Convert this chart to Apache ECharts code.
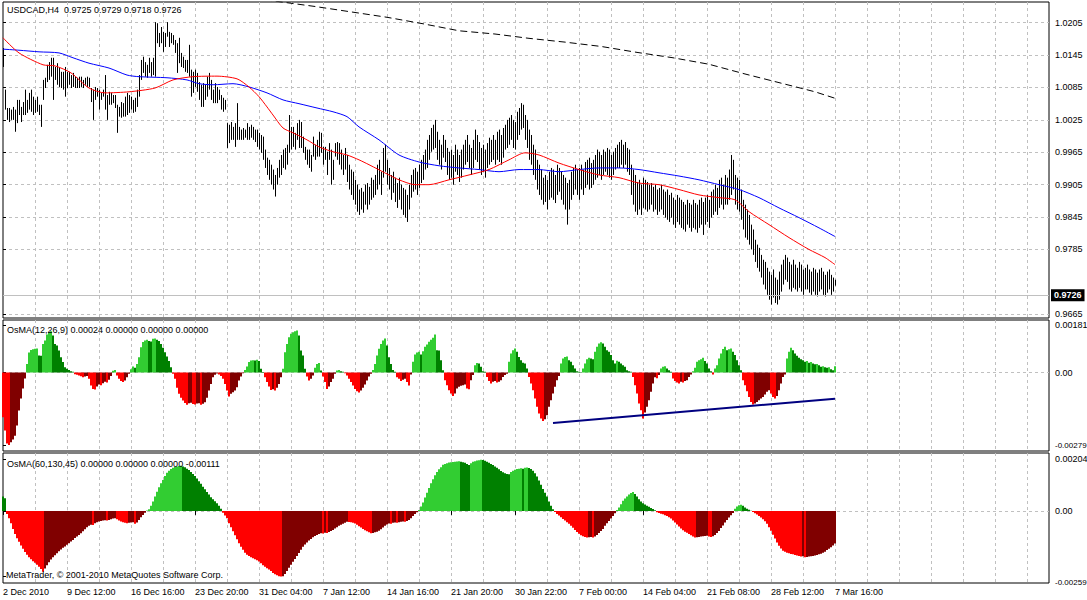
<!DOCTYPE html>
<html><head><meta charset="utf-8">
<script src="https://cdn.jsdelivr.net/npm/echarts@6/dist/echarts.min.js"></script>
<style>html,body{margin:0;padding:0;background:#fff}#c{width:1087px;height:600px}</style>
</head><body><div id="c"></div>
<script>
const xLabels = ['2 Dec 2010','9 Dec 12:00','16 Dec 16:00','23 Dec 20:00','31 Dec 04:00','7 Jan 12:00','14 Jan 16:00','21 Jan 20:00','30 Jan 22:00','7 Feb 00:00','14 Feb 04:00','21 Feb 08:00','28 Feb 12:00','7 Mar 16:00'];
const xLabelIdx = [0,32,64,96,128,160,192,224,256,288,320,352,384,416];
const lastOHLC = [0.9725,0.9729,0.9718,0.9726];
const osma1Header = [0.00024,0,0,0];
const osma2Header = [0,0,0,-0.00111];
const priceTicks = [1.0205,1.0145,1.0085,1.0025,0.9965,0.9905,0.9845,0.9785,0.9665];
const osma1Ticks = [0.00181,0,-0.00279];
const osma2Ticks = [0.00204,0,-0.00259];

const highs = [1.0158,1.0081,1.0047,1.0047,1.0044,1.0049,1.0044,1.0062,1.0062,1.0049,1.0058,1.0081,1.0062,1.0075,1.0081,1.0068,1.0062,1.0068,1.0053,1.0053,
1.0099,1.0103,1.0127,1.0132,1.0140,1.0140,1.0123,1.0130,1.0121,1.0114,1.0114,1.0123,1.0114,1.0114,1.0108,1.0112,1.0105,1.0103,1.0105,1.0105,
1.0099,1.0103,1.0105,1.0103,1.0084,1.0081,1.0086,1.0084,1.0081,1.0075,1.0081,1.0108,1.0071,1.0077,1.0075,1.0071,1.0071,1.0053,1.0049,1.0058,
1.0056,1.0068,1.0075,1.0071,1.0068,1.0062,1.0066,1.0081,1.0108,1.0136,1.0142,1.0132,1.0127,1.0140,1.0132,1.0140,1.0206,1.0204,1.0186,1.0197,
1.0188,1.0186,1.0206,1.0188,1.0186,1.0182,1.0173,1.0167,1.0177,1.0149,1.0142,1.0136,1.0136,1.0164,1.0118,1.0114,1.0118,1.0112,1.0095,1.0090,
1.0093,1.0090,1.0105,1.0112,1.0099,1.0081,1.0093,1.0086,1.0081,1.0071,1.0066,1.0062,1.0019,1.0016,1.0021,1.0012,1.0019,1.0056,1.0012,1.0007,
1.0010,1.0007,1.0019,1.0012,1.0016,1.0012,1.0007,1.0007,1.0001,0.9997,0.9994,0.9970,0.9955,0.9951,0.9942,0.9933,0.9923,0.9936,0.9951,0.9960,
0.9970,0.9973,0.9979,1.0034,1.0012,1.0012,1.0001,1.0019,1.0025,1.0021,0.9994,0.9975,0.9970,0.9970,0.9960,0.9994,0.9979,0.9988,1.0003,1.0001,
0.9975,0.9975,0.9966,0.9982,0.9970,0.9951,0.9982,0.9984,0.9982,0.9970,0.9960,0.9973,0.9960,0.9942,0.9933,0.9929,0.9914,0.9905,0.9896,0.9899,
0.9892,0.9905,0.9908,0.9901,0.9918,0.9914,0.9923,0.9942,0.9951,0.9929,0.9973,0.9979,0.9951,0.9936,0.9923,0.9929,0.9918,0.9908,0.9918,0.9905,
0.9899,0.9896,0.9886,0.9905,0.9923,0.9933,0.9936,0.9929,0.9942,0.9951,0.9960,0.9970,0.9988,0.9997,1.0010,1.0016,1.0025,1.0003,0.9988,0.9979,
0.9997,0.9988,0.9973,0.9966,0.9970,0.9960,0.9979,0.9970,0.9960,0.9970,0.9979,0.9988,0.9997,0.9979,0.9973,0.9988,1.0007,0.9997,0.9984,0.9973,
0.9979,0.9970,0.9982,0.9992,0.9988,0.9997,0.9988,1.0003,1.0007,0.9997,1.0010,1.0016,1.0025,1.0029,1.0034,1.0025,1.0021,1.0040,1.0047,1.0056,
1.0053,1.0034,1.0025,1.0007,0.9997,0.9979,0.9970,0.9951,0.9942,0.9933,0.9918,0.9923,0.9914,0.9929,0.9936,0.9933,0.9923,0.9942,0.9936,0.9929,
0.9923,0.9918,0.9908,0.9914,0.9929,0.9936,0.9942,0.9933,0.9936,0.9942,0.9933,0.9947,0.9951,0.9955,0.9945,0.9951,0.9960,0.9970,0.9966,0.9960,
0.9970,0.9966,0.9973,0.9970,0.9960,0.9966,0.9973,0.9979,0.9984,0.9988,0.9979,0.9984,0.9973,0.9970,0.9942,0.9933,0.9923,0.9910,0.9914,0.9905,
0.9918,0.9914,0.9910,0.9905,0.9908,0.9901,0.9905,0.9896,0.9899,0.9905,0.9896,0.9892,0.9896,0.9886,0.9890,0.9881,0.9877,0.9886,0.9881,0.9877,
0.9873,0.9868,0.9877,0.9871,0.9868,0.9877,0.9871,0.9868,0.9877,0.9881,0.9873,0.9881,0.9886,0.9877,0.9892,0.9896,0.9905,0.9899,0.9914,0.9918,
0.9905,0.9923,0.9918,0.9933,0.9960,0.9951,0.9923,0.9918,0.9914,0.9896,0.9877,0.9868,0.9859,0.9849,0.9831,0.9822,0.9803,0.9794,0.9788,0.9775,
0.9766,0.9762,0.9751,0.9744,0.9738,0.9748,0.9733,0.9729,0.9744,0.9757,0.9766,0.9775,0.9770,0.9762,0.9757,0.9766,0.9757,0.9751,0.9762,0.9757,
0.9748,0.9751,0.9757,0.9748,0.9744,0.9751,0.9748,0.9742,0.9748,0.9751,0.9744,0.9738,0.9744,0.9748,0.9738,0.9733,0.9729];

const lows = [1.0123,1.0044,1.0025,1.0021,1.0025,1.0025,1.0003,1.0019,1.0034,1.0021,1.0034,1.0034,1.0038,1.0044,1.0040,1.0034,1.0038,1.0040,1.0034,1.0012,
1.0062,1.0084,1.0095,1.0099,1.0105,1.0062,1.0099,1.0090,1.0086,1.0084,1.0081,1.0068,1.0084,1.0090,1.0084,1.0086,1.0084,1.0084,1.0084,1.0086,
1.0084,1.0090,1.0086,1.0086,1.0058,1.0025,1.0062,1.0068,1.0044,1.0062,1.0068,1.0044,1.0025,1.0053,1.0053,1.0056,1.0047,1.0001,1.0031,1.0029,
1.0031,1.0031,1.0034,1.0038,1.0044,1.0038,1.0040,1.0049,1.0068,1.0099,1.0112,1.0105,1.0103,1.0112,1.0105,1.0108,1.0105,1.0167,1.0160,1.0167,
1.0151,1.0160,1.0179,1.0160,1.0167,1.0164,1.0149,1.0112,1.0130,1.0123,1.0121,1.0114,1.0112,1.0105,1.0068,1.0075,1.0086,1.0077,1.0062,1.0049,
1.0049,1.0062,1.0068,1.0081,1.0062,1.0056,1.0056,1.0056,1.0062,1.0044,1.0040,1.0044,0.9973,0.9982,0.9988,0.9988,0.9975,0.9988,0.9988,0.9988,
0.9988,0.9992,0.9988,0.9988,0.9992,0.9988,0.9984,0.9975,0.9970,0.9964,0.9951,0.9936,0.9923,0.9914,0.9905,0.9896,0.9883,0.9905,0.9918,0.9923,
0.9936,0.9933,0.9942,0.9964,0.9970,0.9975,0.9970,0.9988,0.9973,0.9973,0.9964,0.9951,0.9942,0.9936,0.9929,0.9957,0.9951,0.9957,0.9957,0.9964,
0.9942,0.9951,0.9923,0.9951,0.9905,0.9914,0.9957,0.9951,0.9942,0.9933,0.9923,0.9933,0.9910,0.9896,0.9886,0.9877,0.9868,0.9855,0.9849,0.9859,
0.9853,0.9868,0.9859,0.9868,0.9877,0.9881,0.9886,0.9896,0.9905,0.9886,0.9918,0.9929,0.9905,0.9896,0.9877,0.9890,0.9873,0.9862,0.9877,0.9859,
0.9849,0.9844,0.9836,0.9859,0.9881,0.9892,0.9896,0.9886,0.9899,0.9908,0.9914,0.9933,0.9936,0.9951,0.9966,0.9970,0.9973,0.9951,0.9942,0.9933,
0.9955,0.9947,0.9923,0.9914,0.9918,0.9905,0.9929,0.9923,0.9910,0.9918,0.9933,0.9942,0.9947,0.9936,0.9923,0.9936,0.9951,0.9947,0.9933,0.9923,
0.9929,0.9918,0.9936,0.9942,0.9947,0.9951,0.9942,0.9951,0.9947,0.9942,0.9955,0.9970,0.9973,0.9979,0.9988,0.9973,0.9970,0.9988,0.9997,1.0007,
1.0010,0.9988,0.9973,0.9951,0.9942,0.9923,0.9914,0.9896,0.9886,0.9877,0.9868,0.9873,0.9859,0.9877,0.9881,0.9877,0.9871,0.9886,0.9892,0.9877,
0.9868,0.9859,0.9831,0.9859,0.9877,0.9886,0.9896,0.9886,0.9877,0.9896,0.9886,0.9899,0.9905,0.9896,0.9899,0.9905,0.9914,0.9918,0.9923,0.9914,
0.9923,0.9929,0.9923,0.9918,0.9914,0.9923,0.9933,0.9936,0.9936,0.9942,0.9936,0.9942,0.9929,0.9923,0.9886,0.9868,0.9855,0.9849,0.9859,0.9849,
0.9862,0.9859,0.9855,0.9859,0.9868,0.9855,0.9859,0.9849,0.9855,0.9859,0.9849,0.9844,0.9840,0.9836,0.9844,0.9831,0.9825,0.9836,0.9831,0.9825,
0.9822,0.9818,0.9831,0.9825,0.9818,0.9825,0.9822,0.9816,0.9825,0.9831,0.9812,0.9831,0.9836,0.9825,0.9844,0.9849,0.9855,0.9849,0.9862,0.9868,
0.9859,0.9868,0.9868,0.9877,0.9886,0.9896,0.9868,0.9859,0.9855,0.9840,0.9822,0.9807,0.9803,0.9794,0.9785,0.9775,0.9762,0.9751,0.9744,0.9733,
0.9720,0.9711,0.9701,0.9692,0.9683,0.9696,0.9686,0.9683,0.9692,0.9707,0.9720,0.9729,0.9725,0.9711,0.9707,0.9714,0.9711,0.9707,0.9714,0.9707,
0.9701,0.9711,0.9711,0.9705,0.9701,0.9707,0.9701,0.9698,0.9707,0.9711,0.9701,0.9698,0.9705,0.9711,0.9701,0.9707,0.9718];

const maRed = [[0,1.0177],[8,1.0149],[20,1.0127],[26,1.0125],[34,1.0112],[43,1.0084],[51,1.0075],[63,1.0077],[76,1.0084],[85,1.0099],[95,1.0105],[107,1.0106],[117,1.0101],[123,1.0086],[128,1.0068],[132,1.0049],[135,1.0034],[140,1.0010],[145,1.0001],[152,0.9988],[158,0.9975],[165,0.9966],[172,0.9960],[178,0.9951],[183,0.9942],[193,0.9923],[198,0.9914],[206,0.9905],[213,0.9905],[223,0.9914],[233,0.9923],[243,0.9933],[253,0.9951],[261,0.9964],[268,0.9960],[278,0.9945],[288,0.9933],[298,0.9923],[308,0.9918],[318,0.9908],[328,0.9905],[338,0.9896],[348,0.9886],[358,0.9881],[366,0.9877],[373,0.9855],[383,0.9831],[393,0.9807],[403,0.9785],[411,0.9770],[416,0.9757]];
const maBlue = [[0,1.0156],[8,1.0154],[18,1.0151],[28,1.0149],[35,1.0140],[43,1.0130],[53,1.0121],[62,1.0108],[68,1.0105],[82,1.0103],[92,1.0099],[98,1.0092],[105,1.0090],[115,1.0092],[123,1.0086],[132,1.0075],[140,1.0062],[148,1.0055],[157,1.0047],[165,1.0040],[172,1.0031],[178,1.0012],[188,0.9988],[198,0.9960],[208,0.9947],[218,0.9940],[228,0.9936],[238,0.9933],[248,0.9929],[258,0.9933],[268,0.9933],[278,0.9929],[288,0.9933],[298,0.9936],[308,0.9936],[318,0.9933],[328,0.9927],[338,0.9921],[348,0.9914],[358,0.9905],[368,0.9896],[378,0.9881],[388,0.9862],[398,0.9844],[408,0.9825],[416,0.9809]];
const maBlack = [[120,1.0253],[144,1.0241],[156,1.0235],[174,1.0225],[192,1.0215],[210,1.0203],[228,1.0190],[246,1.0184],[263,1.0176],[281,1.0169],[299,1.0161],[317,1.0150],[335,1.0140],[353,1.0128],[371,1.0110],[388,1.0094],[406,1.0077],[416,1.0065]];

const osma1 = [-0.00172,-0.00223,-0.00273,-0.00279,-0.00268,-0.00258,-0.00243,-0.00204,-0.00146,-0.00100,-0.00062,-0.00023,
0.00033,0.00077,0.00087,0.00089,0.00091,0.00092,0.00065,0.00064,0.00110,0.00123,0.00146,0.00155,0.00159,0.00142,0.00110,0.00104,0.00085,0.00059,0.00040,0.00020,0.00014,0.00010,0.00005,0.00003,
-0.00007,-0.00009,-0.00012,-0.00014,-0.00018,-0.00015,-0.00013,-0.00024,-0.00050,-0.00063,-0.00065,-0.00054,-0.00046,-0.00049,-0.00041,-0.00036,-0.00038,-0.00028,-0.00013,
0.00007,0.00010,
-0.00012,-0.00024,-0.00033,-0.00037,-0.00031,-0.00018,-0.00005,
0.00013,0.00023,0.00018,0.00033,0.00059,
0.00097,0.00117,0.00123,0.00126,0.00121,0.00119,0.00130,0.00131,0.00126,0.00121,0.00110,0.00095,0.00078,0.00062,0.00044,0.00020,
-0.00005,-0.00024,-0.00059,-0.00082,-0.00097,-0.00108,-0.00117,-0.00124,-0.00118,-0.00116,-0.00121,-0.00123,-0.00119,-0.00118,-0.00124,-0.00120,-0.00114,-0.00097,-0.00069,-0.00044,-0.00018,-0.00009,
-0.00004,-0.00008,-0.00013,-0.00024,-0.00044,-0.00069,-0.00092,-0.00082,-0.00076,-0.00069,-0.00057,-0.00031,-0.00015,-0.00003,
0.00010,0.00023,0.00040,0.00046,0.00047,0.00046,0.00049,0.00044,0.00014,0.00002,
-0.00018,-0.00037,-0.00054,-0.00067,-0.00064,-0.00069,-0.00059,-0.00044,-0.00018,
0.00014,0.00078,0.00110,0.00136,0.00149,0.00155,0.00159,0.00162,0.00142,0.00085,0.00065,0.00014,
-0.00015,-0.00031,-0.00024,-0.00012,
0.00018,0.00033,0.00037,0.00008,
-0.00015,-0.00037,-0.00063,-0.00054,-0.00037,-0.00024,-0.00005,
0.00008,0.00010,0.00005,0.00003,
-0.00003,-0.00012,-0.00024,-0.00037,-0.00050,-0.00063,-0.00072,-0.00077,-0.00069,-0.00059,-0.00046,-0.00031,-0.00015,-0.00005,
0.00010,0.00033,0.00065,0.00091,0.00110,0.00123,0.00131,0.00104,0.00059,0.00033,0.00010,0.00003,
-0.00018,-0.00024,-0.00033,-0.00028,-0.00024,-0.00037,-0.00050,-0.00008,
0.00041,0.00069,0.00077,0.00080,0.00069,0.00082,0.00099,0.00108,0.00118,0.00126,0.00134,0.00146,0.00086,0.00085,0.00047,0.00009,
-0.00030,-0.00049,-0.00068,-0.00081,-0.00090,-0.00081,-0.00062,-0.00055,-0.00051,-0.00049,-0.00046,-0.00062,-0.00064,-0.00030,-0.00010,
0.00028,0.00037,0.00035,0.00022,0.00005,0.00003,
-0.00017,-0.00033,-0.00042,-0.00036,-0.00033,-0.00038,-0.00036,-0.00030,-0.00017,-0.00010,-0.00005,
0.00041,0.00073,0.00086,0.00092,0.00080,0.00060,0.00047,0.00038,0.00035,0.00015,
-0.00017,-0.00042,-0.00068,-0.00100,-0.00132,-0.00158,-0.00177,-0.00187,-0.00180,-0.00164,-0.00132,-0.00107,-0.00081,-0.00055,-0.00030,-0.00013,
0.00035,0.00054,0.00060,0.00062,0.00047,0.00041,0.00028,0.00015,0.00005,0.00003,0.00001,0.00015,0.00035,0.00051,0.00057,0.00054,0.00051,0.00080,0.00099,0.00112,0.00116,0.00112,0.00099,0.00086,0.00080,0.00067,0.00047,0.00035,0.00045,0.00041,0.00035,0.00028,0.00022,0.00009,0.00005,0.00003,
-0.00017,-0.00049,-0.00081,-0.00119,-0.00145,-0.00177,-0.00154,-0.00132,-0.00107,-0.00074,-0.00042,-0.00018,-0.00022,-0.00010,
0.00015,0.00022,0.00024,0.00015,0.00009,0.00003,
-0.00023,-0.00033,-0.00038,-0.00042,-0.00036,-0.00038,-0.00033,-0.00030,-0.00017,-0.00008,
0.00005,0.00018,0.00041,0.00047,0.00051,0.00057,0.00044,0.00035,0.00015,0.00005,
-0.00008,
0.00015,0.00028,0.00054,0.00073,0.00090,0.00099,0.00086,0.00089,0.00092,0.00080,0.00067,0.00047,0.00028,0.00009,
-0.00030,-0.00049,-0.00072,-0.00094,-0.00113,-0.00123,-0.00119,-0.00113,-0.00107,-0.00100,-0.00094,-0.00085,-0.00074,-0.00068,-0.00081,-0.00094,-0.00100,-0.00090,-0.00068,-0.00042,-0.00017,-0.00008,
0.00054,0.00080,0.00095,0.00086,0.00073,0.00064,0.00057,0.00051,0.00047,0.00041,0.00044,0.00038,0.00040,0.00035,0.00032,0.00033,0.00028,0.00022,0.00024,0.00020,0.00018,0.00020,0.00013,0.00009,0.00024];

const osma2 = [0.00057,0.00050,
-0.00012,-0.00029,-0.00049,-0.00071,-0.00091,-0.00108,-0.00122,-0.00137,-0.00150,-0.00162,-0.00173,-0.00183,-0.00191,-0.00199,-0.00205,-0.00213,-0.00221,-0.00230,-0.00241,
-0.00228,-0.00215,-0.00203,-0.00192,-0.00183,-0.00175,-0.00167,-0.00159,-0.00153,-0.00146,-0.00141,-0.00134,-0.00128,-0.00121,-0.00115,-0.00107,-0.00101,-0.00095,-0.00088,-0.00080,-0.00072,-0.00065,-0.00059,-0.00055,
-0.00056,
-0.00049,-0.00045,-0.00042,-0.00040,-0.00038,-0.00037,
-0.00038,
-0.00036,-0.00033,-0.00030,-0.00029,
-0.00033,-0.00038,-0.00042,-0.00045,-0.00047,-0.00049,
-0.00047,-0.00046,-0.00045,
-0.00051,
-0.00046,-0.00036,-0.00025,-0.00016,-0.00007,
0.00002,0.00007,0.00020,0.00037,0.00057,0.00076,0.00094,0.00109,0.00122,0.00138,0.00151,0.00159,0.00166,0.00171,0.00175,0.00176,0.00178,0.00179,
0.00176,0.00173,0.00167,0.00162,0.00154,0.00146,0.00138,0.00128,0.00117,0.00107,0.00096,0.00086,0.00075,0.00065,0.00054,0.00046,0.00038,0.00030,0.00020,0.00009,
-0.00007,-0.00018,-0.00029,-0.00049,-0.00065,-0.00080,-0.00096,-0.00112,-0.00128,-0.00142,-0.00154,-0.00165,-0.00173,-0.00178,-0.00183,-0.00187,-0.00191,-0.00195,-0.00200,-0.00207,-0.00215,-0.00221,-0.00227,-0.00232,-0.00238,-0.00245,-0.00250,-0.00254,-0.00258,-0.00259,
-0.00258,-0.00249,-0.00238,-0.00225,-0.00213,-0.00201,-0.00190,-0.00178,-0.00166,-0.00154,-0.00142,-0.00133,-0.00125,-0.00117,-0.00111,-0.00104,-0.00099,-0.00095,-0.00091,-0.00088,
-0.00089,-0.00086,-0.00087,
-0.00083,-0.00079,-0.00075,-0.00070,-0.00065,-0.00059,-0.00055,-0.00051,-0.00047,
-0.00043,-0.00044,
-0.00045,-0.00047,-0.00050,-0.00055,-0.00061,-0.00066,-0.00071,-0.00076,-0.00080,-0.00084,-0.00088,
-0.00087,-0.00084,-0.00082,-0.00078,-0.00072,-0.00066,-0.00059,-0.00054,-0.00050,
-0.00051,
-0.00047,-0.00046,
-0.00047,
-0.00045,-0.00043,-0.00042,
-0.00043,
-0.00040,-0.00036,-0.00029,-0.00020,-0.00012,-0.00005,
0.00004,0.00017,0.00033,0.00053,0.00072,0.00091,0.00109,0.00125,0.00141,0.00154,0.00165,0.00173,
0.00183,0.00186,0.00188,0.00191,0.00192,0.00193,0.00194,0.00195,0.00196,
0.00194,0.00192,0.00190,0.00186,0.00182,
0.00188,0.00194,0.00196,0.00199,0.00200,0.00202,
0.00201,0.00198,0.00194,0.00190,0.00186,0.00182,0.00176,0.00171,0.00165,0.00158,0.00153,0.00149,0.00146,0.00145,
0.00154,0.00159,0.00163,0.00166,0.00167,0.00169,
0.00167,
0.00171,0.00172,
0.00170,0.00166,0.00159,0.00149,0.00136,0.00120,0.00103,0.00087,0.00072,0.00057,0.00037,0.00020,0.00007,
-0.00004,-0.00012,-0.00018,-0.00025,-0.00032,-0.00038,-0.00045,-0.00051,-0.00059,-0.00067,-0.00075,-0.00083,-0.00090,-0.00096,-0.00100,-0.00103,-0.00105,
-0.00104,-0.00103,
-0.00105,
-0.00101,-0.00095,-0.00087,-0.00079,-0.00071,-0.00059,-0.00049,-0.00040,-0.00030,-0.00020,-0.00009,
0.00004,0.00014,0.00026,0.00040,0.00049,0.00057,0.00065,0.00071,0.00075,
0.00067,0.00057,0.00046,0.00037,0.00030,0.00025,0.00020,0.00016,0.00012,0.00008,0.00003,
-0.00005,-0.00008,-0.00011,-0.00013,-0.00017,-0.00020,-0.00025,-0.00030,-0.00038,-0.00046,-0.00054,-0.00062,-0.00070,-0.00076,-0.00082,-0.00086,-0.00091,-0.00096,-0.00101,-0.00105,
-0.00104,-0.00103,-0.00101,-0.00100,-0.00099,-0.00098,
-0.00101,-0.00103,
-0.00100,-0.00095,-0.00087,-0.00079,-0.00068,-0.00058,-0.00046,-0.00036,-0.00026,-0.00017,-0.00008,
0.00009,0.00017,0.00022,0.00024,
0.00020,0.00014,0.00009,0.00005,0.00001,
-0.00004,-0.00009,-0.00014,-0.00020,-0.00026,-0.00033,-0.00041,-0.00051,-0.00065,-0.00078,-0.00094,-0.00109,-0.00125,-0.00138,-0.00149,-0.00157,-0.00161,-0.00165,-0.00167,-0.00170,-0.00171,-0.00174,-0.00176,-0.00178,-0.00180,
-0.00179,
-0.00183,
-0.00182,-0.00180,-0.00179,-0.00178,-0.00176,-0.00174,-0.00171,-0.00169,-0.00165,-0.00161,-0.00155,-0.00150,-0.00144,-0.00137,-0.00129];

const trendLine = [[275,-0.00194],[416,-0.00101]];

const FONT = '"Liberation Sans", Arial, sans-serif';
const GRIDLINE = {show:true, lineStyle:{color:'#c0c0c0', type:[3,3], width:1}};
const TXT = {fontSize:9, fontWeight:'normal', color:'#000', fontFamily:FONT};

function histData(arr){
  return arr.map((v,i)=>{
    const up = i>0 && v >= arr[i-1];
    const c = v >= 0 ? (up ? '#32cd32' : '#008000') : (up ? '#800000' : '#ff0000');
    return {value:[i,v], itemStyle:{color:c}};
  });
}
function xAx(g){
  return {gridIndex:g, type:'value', min:0, max:523, interval:16,
    axisLine:{show:false}, axisTick:{show:false}, axisLabel:{show:false},
    splitLine:Object.assign({showMinLine:false, showMaxLine:false}, GRIDLINE)};
}
function subLabel(v){
  if (v === 0) return '0.00';
  return v < 0 ? '{neg|' + v.toFixed(5) + '}' : v.toFixed(5);
}
const gridBase = {left:3, width:1046, show:true, borderColor:'#000', borderWidth:1, backgroundColor:'transparent', containLabel:false, outerBoundsMode:'none'};

const chart = echarts.init(document.getElementById('c'), null, {renderer:'svg'});
chart.setOption({
  animation:false,
  backgroundColor:'#fff',
  textStyle:{fontFamily:FONT},
  title:[
    {text:'USDCAD,H4\u00a0 ' + lastOHLC.map(v=>v.toFixed(4)).join(' '), left:7, top:5, padding:0, textStyle:TXT},
    {text:'OsMA(12,26,9) ' + osma1Header.map(v=>v.toFixed(5)).join(' '), left:7, top:325, padding:0, textStyle:TXT},
    {text:'OsMA(60,130,45) ' + osma2Header.map(v=>v.toFixed(5)).join(' '), left:7, top:459, padding:0, textStyle:TXT},
    {text:'MetaTrader, \u00a9 2001-2010 MetaQuotes Software Corp.', left:6, top:570, padding:0, textStyle:TXT}
  ],
  grid:[
    Object.assign({top:2, height:316}, gridBase),
    Object.assign({top:320, height:131}, gridBase),
    Object.assign({top:453, height:130}, gridBase)
  ],
  xAxis:[
    xAx(0), xAx(1), xAx(2),
    {gridIndex:2, type:'value', min:0, max:523, position:'bottom',
      axisLine:{show:false},
      axisTick:{show:true, length:4, customValues:xLabelIdx, lineStyle:{color:'#000'}},
      axisLabel:{show:true, customValues:xLabelIdx, formatter:v=>xLabels[Math.round(v/32)]||'', align:'left', margin:4, fontSize:9, color:'#000', fontFamily:FONT},
      splitLine:{show:false}}
  ],
  yAxis:[
    {gridIndex:0, type:'value', min:0.96581, max:1.02433, position:'right',
      axisLine:{show:false},
      axisTick:{show:true, length:3, customValues:priceTicks, lineStyle:{color:'#000'}},
      axisLabel:{customValues:priceTicks, formatter:v=>v.toFixed(4), margin:6, fontSize:9, color:'#000', fontFamily:FONT},
      splitLine:GRIDLINE},
    {gridIndex:1, type:'value', min:-0.00302, max:0.00202, position:'right',
      axisLine:{show:false},
      axisTick:{show:true, length:3, customValues:osma1Ticks, lineStyle:{color:'#000'}},
      axisLabel:{customValues:osma1Ticks, formatter:subLabel, margin:6, fontSize:9, color:'#000', fontFamily:FONT,
        rich:{neg:{fontSize:8, color:'#000', fontFamily:FONT}}},
      splitLine:{show:false}},
    {gridIndex:1, type:'value', min:-0.00302, max:0.00202, position:'right',
      axisLine:{show:false}, axisTick:{show:false, customValues:[0]}, axisLabel:{show:false}, splitLine:GRIDLINE},
    {gridIndex:2, type:'value', min:-0.00285, max:0.00229, position:'right',
      axisLine:{show:false},
      axisTick:{show:true, length:3, customValues:osma2Ticks, lineStyle:{color:'#000'}},
      axisLabel:{customValues:osma2Ticks, formatter:subLabel, margin:6, fontSize:9, color:'#000', fontFamily:FONT,
        rich:{neg:{fontSize:8, color:'#000', fontFamily:FONT, padding:[13,0,0,0]}}},
      splitLine:{show:false}},
    {gridIndex:2, type:'value', min:-0.00285, max:0.00229, position:'right',
      axisLine:{show:false}, axisTick:{show:false, customValues:[0]}, axisLabel:{show:false}, splitLine:GRIDLINE}
  ],
  series:[
    {type:'line', xAxisIndex:0, yAxisIndex:0, data:[], z:1, silent:true,
      markLine:{silent:true, symbol:['none','none'], animation:false, data:[{yAxis:lastOHLC[3]}],
        lineStyle:{color:'#c0c0c0', type:'solid', width:1},
        label:{show:true, position:'end', formatter:lastOHLC[3].toFixed(4), color:'#fff', backgroundColor:'#000', padding:[2,3,1,3], fontSize:9, fontWeight:'bold', fontFamily:FONT, distance:2}}},
    {type:'custom', xAxisIndex:0, yAxisIndex:0, z:2, silent:true,
      data:highs.map((h,i)=>[i,h,lows[i]]),
      encode:{x:0, y:[1,2]},
      renderItem:(params, api)=>{
        const a = api.coord([api.value(0), api.value(1)]);
        const b = api.coord([api.value(0), api.value(2)]);
        const x = Math.round(a[0]) + 0.5;
        return {type:'line', shape:{x1:x, y1:a[1], x2:x, y2:b[1]}, style:{stroke:'#000', lineWidth:1}};
      }},
    {type:'line', xAxisIndex:0, yAxisIndex:0, data:maBlack, showSymbol:false, z:3, silent:true,
      lineStyle:{color:'#000', width:1, type:[7,4]}},
    {type:'line', xAxisIndex:0, yAxisIndex:0, data:maBlue, showSymbol:false, smooth:0.25, z:3, silent:true,
      lineStyle:{color:'#0000ff', width:1}},
    {type:'line', xAxisIndex:0, yAxisIndex:0, data:maRed, showSymbol:false, smooth:0.25, z:3, silent:true,
      lineStyle:{color:'#ff0000', width:1}},
    {type:'bar', xAxisIndex:1, yAxisIndex:1, barWidth:2, data:histData(osma1), z:2, silent:true},
    {type:'line', xAxisIndex:1, yAxisIndex:1, data:trendLine, showSymbol:false, z:3, silent:true,
      lineStyle:{color:'#000080', width:2}},
    {type:'bar', xAxisIndex:2, yAxisIndex:3, barWidth:2, data:histData(osma2), z:2, silent:true}
  ]
});
</script>
</body></html>
